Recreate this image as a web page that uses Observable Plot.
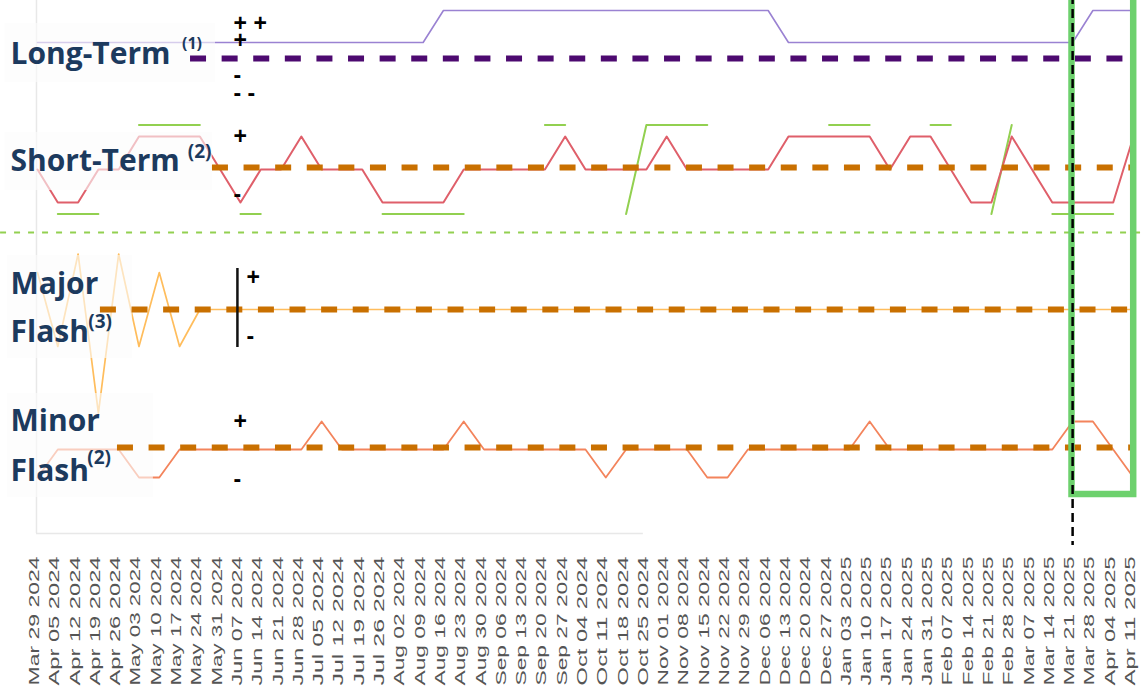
<!DOCTYPE html>
<html><head><meta charset="utf-8">
<script src="https://cdn.jsdelivr.net/npm/d3@7"></script>
<script src="https://cdn.jsdelivr.net/npm/@observablehq/plot@0.6"></script>
<style>
html,body{margin:0;padding:0;background:#fff;}
#chart{width:1141px;height:698px;overflow:hidden;}
</style>
</head><body><div id="chart"></div>
<script>
// ---- data (weekly observations) ----
const dates = ["Mar 29 2024","Apr 05 2024","Apr 12 2024","Apr 19 2024","Apr 26 2024","May 03 2024","May 10 2024","May 17 2024","May 24 2024","May 31 2024","Jun 07 2024","Jun 14 2024","Jun 21 2024","Jun 28 2024","Jul 05 2024","Jul 12 2024","Jul 19 2024","Jul 26 2024","Aug 02 2024","Aug 09 2024","Aug 16 2024","Aug 23 2024","Aug 30 2024","Sep 06 2024","Sep 13 2024","Sep 20 2024","Sep 27 2024","Oct 04 2024","Oct 11 2024","Oct 18 2024","Oct 25 2024","Nov 01 2024","Nov 08 2024","Nov 15 2024","Nov 22 2024","Nov 29 2024","Dec 06 2024","Dec 13 2024","Dec 20 2024","Dec 27 2024","Jan 03 2025","Jan 10 2025","Jan 17 2025","Jan 24 2025","Jan 31 2025","Feb 07 2025","Feb 14 2025","Feb 21 2025","Feb 28 2025","Mar 07 2025","Mar 14 2025","Mar 21 2025","Mar 28 2025","Apr 04 2025","Apr 11 2025"];

const longTerm = [1,1,1,1,1,1,1,1,1,1, 1,1,1,1,1,1,1,1,1,1, 3,3,3,3,3,3,3,3,3,3, 3,3,3,3,3,3,3,1,1,1, 1,1,1,1,1,1,1,1,1,1, 1,1,3,3,3];

const shortTerm = [0,-1,-1,0,0,1,1,1,1,0, -1,0,0,1,0,0,0,-1,-1,-1, -1,0,0,0,0,0,1,0,0,0, 0,1,0,0,0,0,0,1,1,1, 1,1,0,1,1,0,-1,-1,1,0, -1,-1,-1,-1,1];

const shortSignal = [null,-1,-1,-1,null,1,1,1,1,null, -1,-1,null,null,null,null,null,-1,-1,-1, -1,-1,null,null,null,1,1,null,null,-1, 1,1,1,1,null,null,null,null,null,1, 1,1,null,null,1,1,null,-1,1,null, -1,-1,-1,-1,null];

const majorFlash = [1,-1,1.5,-2.8,1.5,-1,1,-1,0,0, 0,0,0,0,0,0,0,0,0,0, 0,0,0,0,0,0,0,0,0,0, 0,0,0,0,0,0,0,0,0,0, 0,0,0,0,0,0,0,0,0,0, 0,0,0,0,0];

const minorFlash = [-1,0,0,0,0,-1,-1,0,0,0, 0,0,0,0,1,0,0,0,0,0, 0,1,0,0,0,0,0,0,-1,0, 0,0,0,-1,-1,0,0,0,0,0, 0,1,0,0,0,0,0,0,0,0, 0,1,1,0,-1];

const panelNames = ["Long-Term", "Short-Term", "Major", "Flash", "Minor", "Flash"];
const panelNotes = ["(1)", "(2)", "(3)", "(2)"];
const markerTexts = ["+ +", "+", "-", "- -"];
const markerLevels = [2, 1, -1, -2];
const signalWeek = "Mar 21 2025";

// ---- layout (y in frame units, x in week-index units) ----
const layout = {
  long:  {center: 58,  step: 16, mark: 17.5, dash: 58,  dashFrom: 7.54},
  short: {center: 169, step: 33, mark: 33,   dash: 167, dashFrom: 8.62, sig: 1.35},
  major: {center: 309, step: 37, mark: 31,   dash: 309, dashFrom: 3.1},
  minor: {center: 449, step: 28, mark: 28,   dash: 447, dashFrom: 3.94}
};
const navy = "#1c3a5e";
const dashOrange = "#c97000";
const titleFont = "'Open Sans', sans-serif";
const markFont = "'Liberation Sans', Arial, sans-serif";

const idx = d3.range(dates.length);
const rows = idx.map(i => ({i, lt: longTerm[i], st: shortTerm[i], sg: shortSignal[i], mj: majorFlash[i], mn: minorFlash[i]}));
const lvl = (p, v) => (v == null ? NaN : layout[p].center - v * layout[p].step);

const boxes = [
  {x1: -1.58, x2: 8.77, y1: 23,  y2: 82},
  {x1: -1.58, x2: 8.62, y1: 132, y2: 190},
  {x1: -1.48, x2: 4.68, y1: 255, y2: 358},
  {x1: -1.48, x2: 5.71, y1: 393, y2: 497}
];
const titleY = [63, 170, 293, 341, 430, 480];
const titles = panelNames.map((t, k) => ({t, x: -1.33, y: titleY[k]}));
const notes = [
  {t: panelNotes[0], x: 7.12, y: 48, s: 16},
  {t: panelNotes[1], x: 7.4, y: 157, s: 19},
  {t: panelNotes[2], x: 2.5, y: 327, s: 19},
  {t: panelNotes[3], x: 2.45, y: 463, s: 19}
];
const longMarks = markerTexts.map((t, k) => ({t, y: layout.long.center - markerLevels[k] * layout.long.mark}));
const otherMarks = [
  {t: "+", x: 9.66, y: layout.short.center - layout.short.mark},
  {t: "-", x: 9.66, y: layout.short.center + layout.short.mark - 8},
  {t: "+", x: 10.3, y: layout.major.center - layout.major.mark - 1},
  {t: "-", x: 10.3, y: layout.major.center + layout.major.mark - 4},
  {t: "+", x: 9.66, y: layout.minor.center - layout.minor.mark},
  {t: "-", x: 9.66, y: layout.minor.center + layout.minor.mark + 2}
];
const dashes = [
  {y: layout.long.dash,  from: layout.long.dashFrom,  c: "#4d0a70"},
  {y: layout.short.dash, from: layout.short.dashFrom, c: dashOrange},
  {y: layout.major.dash, from: layout.major.dashFrom, c: dashOrange},
  {y: layout.minor.dash, from: layout.minor.dashFrom, c: dashOrange}
];
const sigIndex = dates.indexOf(signalWeek);

const chart = Plot.plot({
  width: 1141, height: 698,
  marginLeft: 37, marginRight: 8, marginTop: 0, marginBottom: 166,
  style: {fontFamily: "'Liberation Sans', Arial, sans-serif", background: "#fff"},
  x: {type: "linear", domain: [0, dates.length - 1]},
  y: {domain: [0, 532], range: [0, 532], axis: null},
  marks: [
    // frame lines
    Plot.ruleX([-0.05], {y1: 0, y2: 533, stroke: "#e8e8e8", strokeWidth: 1.5}),
    Plot.ruleY([533], {x1: -0.05, x2: 29.85, stroke: "#e8e8e8", strokeWidth: 1.5}),
    // divider
    Plot.ruleY([232], {x1: -1.82, x2: 54.39, stroke: "#92d050", strokeWidth: 2, strokeDasharray: "6,8"}),
    // series
    Plot.line(rows, {x: "i", y: d => lvl("long", d.lt), stroke: "#9a82d2", strokeWidth: 1.6}),
    Plot.line(rows, {x: "i", y: d => d.sg == null ? NaN : layout.short.center - d.sg * layout.short.sig * layout.short.step, stroke: "#92d050", strokeWidth: 2}),
    Plot.line(rows, {x: "i", y: d => lvl("short", d.st), stroke: "#df5f6a", strokeWidth: 2}),
    Plot.line(rows, {x: "i", y: d => lvl("major", d.mj), stroke: "#ffbd5c", strokeWidth: 1.7}),
    Plot.line(rows, {x: "i", y: d => lvl("minor", d.mn), stroke: "#f3845c", strokeWidth: 1.8}),
    // label boxes
    Plot.rect(boxes, {x1: "x1", x2: "x2", y1: "y1", y2: "y2", fill: "#fbfbfb", fillOpacity: 0.62}),
    // baselines
    Plot.ruleY(dashes, {y: "y", x1: "from", x2: dates.length - 1, stroke: "c", strokeWidth: 6, strokeDasharray: "16,15.6"}),
    // major marker bar
    Plot.ruleX([9.85], {y1: 268, y2: 347, stroke: "#111", strokeWidth: 2.5}),
    // markers
    Plot.text(longMarks, {x: 9.66, y: "y", text: "t", textAnchor: "start", fontSize: 23, fontWeight: "bold", fontFamily: markFont, fill: "#000"}),
    Plot.text(otherMarks, {x: "x", y: "y", text: "t", textAnchor: "start", fontSize: 23, fontWeight: "bold", fontFamily: markFont, fill: "#000"}),
    // titles
    Plot.text(titles, {x: "x", y: "y", text: "t", fontSize: 30, textAnchor: "start", lineAnchor: "bottom", fontWeight: "bold", fontFamily: titleFont, fill: navy}),
    Plot.text(notes, {x: "x", y: "y", text: "t", fontSize: "s", textAnchor: "start", lineAnchor: "bottom", fontWeight: "bold", fontFamily: titleFont, fill: navy}),
    // highlight box and marker line
    Plot.rect([sigIndex], {x1: d => d - 0.03, x2: dates.length - 1 + 0.01, y1: -10, y2: 494, fill: "none", stroke: "#6dd16d", strokeWidth: 6.5}),
    Plot.ruleX([sigIndex], {y1: -5, y2: 545, stroke: "#000", strokeWidth: 2.5, strokeDasharray: "9,5"}),
    // x axis
    Plot.axisX(idx, {tickFormat: i => dates[i], tickRotate: -90, tickSize: 0, tickPadding: 24, fontSize: 14, fill: "#555", dx: -3})
  ]
});
document.getElementById("chart").appendChild(chart);
chart.querySelectorAll('g[aria-label="x-axis tick label"] text').forEach(t => {
  t.setAttribute("textLength", 129);
  t.setAttribute("lengthAdjust", "spacingAndGlyphs");
});
</script>
</body></html>
